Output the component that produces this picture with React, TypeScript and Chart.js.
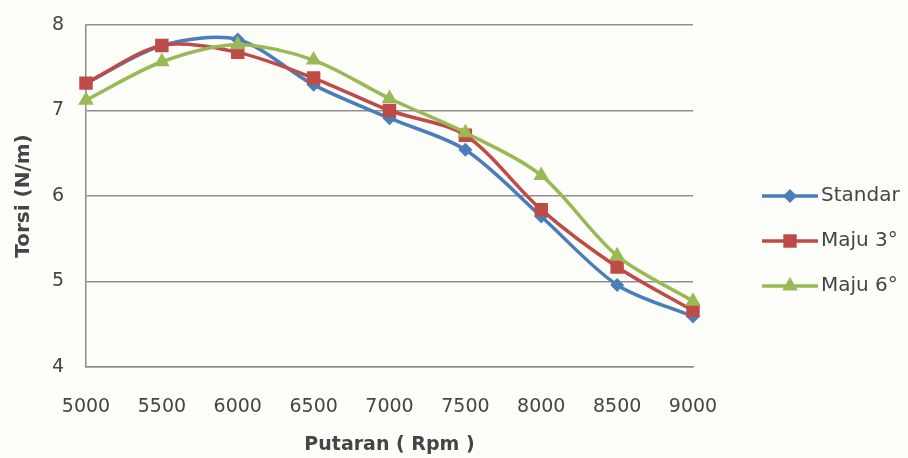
import React, { useEffect, useRef } from "react";
import { Chart, registerables } from "chart.js";

Chart.register(...registerables);

const rpmLabels = ["5000", "5500", "6000", "6500", "7000", "7500", "8000", "8500", "9000"];
const standar = [7.32, 7.76, 7.83, 7.3, 6.91, 6.54, 5.76, 4.96, 4.59];
const maju3 = [7.32, 7.76, 7.68, 7.38, 7.0, 6.71, 5.84, 5.17, 4.66];
const maju6 = [7.12, 7.57, 7.77, 7.59, 7.14, 6.74, 6.24, 5.3, 4.77];
const seriesNames = ["Standar", "Maju 3°", "Maju 6°"];
const yTitle = "Torsi (N/m)";
const xTitle = "Putaran ( Rpm )";

const COLORS = ["#4A7EBB", "#BE4B48", "#98B954"];
const STYLES = ["rectRot", "rect", "triangle"];
const FONT = "'DejaVu Sans', sans-serif";
const TEXT = "#454545";

function drawMarker(ctx: CanvasRenderingContext2D, style: string, x: number, y: number, r: number) {
  ctx.beginPath();
  if (style === "rect") {
    const s = r * Math.SQRT1_2;
    ctx.rect(x - s, y - s, 2 * s, 2 * s);
  } else if (style === "rectRot") {
    ctx.moveTo(x, y - r);
    ctx.lineTo(x + r, y);
    ctx.lineTo(x, y + r);
    ctx.lineTo(x - r, y);
    ctx.closePath();
  } else {
    const h = r;
    ctx.moveTo(x, y - h);
    ctx.lineTo(x + h * 0.866, y + h * 0.5);
    ctx.lineTo(x - h * 0.866, y + h * 0.5);
    ctx.closePath();
  }
  ctx.fill();
}

const bgPlugin = {
  id: "bg",
  beforeDraw(chart: any) {
    const ctx = chart.ctx;
    ctx.save();
    ctx.fillStyle = "#fdfdf9";
    ctx.fillRect(0, 0, chart.width, chart.height);
    ctx.restore();
  },
};

const legendPlugin = {
  id: "sideLegend",
  afterDraw(chart: any) {
    const ctx = chart.ctx;
    ctx.save();
    chart.data.datasets.forEach((ds: any, i: number) => {
      const y = 196 + i * 45;
      ctx.strokeStyle = ds.borderColor;
      ctx.lineWidth = 3.5;
      ctx.beginPath();
      ctx.moveTo(762, y);
      ctx.lineTo(818, y);
      ctx.stroke();
      ctx.fillStyle = ds.backgroundColor;
      drawMarker(ctx, ds.pointStyle, 790, y, ds.pointRadius);
      ctx.fillStyle = TEXT;
      ctx.font = `20px ${FONT}`;
      ctx.textBaseline = "middle";
      ctx.textAlign = "left";
      ctx.fillText(ds.label, 821, y);
    });
    ctx.restore();
  },
};

export default function App() {
  const ref = useRef<HTMLCanvasElement | null>(null);

  useEffect(() => {
    if (!ref.current) return;
    const values = [standar, maju3, maju6];
    const radii = [7, 9.5, 9];
    const chart = new Chart(ref.current, {
      type: "line",
      data: {
        labels: rpmLabels,
        datasets: values.map((v, i) => ({
          label: seriesNames[i],
          data: v,
          borderColor: COLORS[i],
          backgroundColor: COLORS[i],
          pointBackgroundColor: COLORS[i],
          pointBorderColor: COLORS[i],
          pointStyle: STYLES[i] as any,
          pointRadius: radii[i],
          pointBorderWidth: 0,
          borderWidth: 3.5,
          tension: 0.3,
          fill: false,
          order: 2 - i,
        })),
      },
      options: {
        responsive: false,
        animation: false,
        layout: { padding: { top: 25, right: 215, left: 0, bottom: 0 } },
        plugins: { legend: { display: false }, tooltip: { enabled: false } },
        scales: {
          x: {
            type: "category",
            offset: false,
            grid: { display: false, drawTicks: false },
            border: { display: true, color: "#8c8c8c", width: 1.5 },
            ticks: { font: { family: FONT, size: 19 }, color: TEXT, padding: 29, maxRotation: 0, autoSkip: false },
            title: { display: true, text: xTitle, font: { family: FONT, size: 19, weight: "bold" }, color: TEXT, padding: { top: 0, bottom: 2 } },
            afterFit: (s: any) => { s.height = 91; },
          },
          y: {
            min: 4,
            max: 8,
            ticks: { stepSize: 1, font: { family: FONT, size: 19 }, color: TEXT, padding: 22 },
            grid: { color: "#8f8f8f", lineWidth: 1.5, drawTicks: false },
            border: { display: true, color: "#8c8c8c", width: 1.5 },
            title: { display: true, text: yTitle, font: { family: FONT, size: 20, weight: "bold" }, color: TEXT, padding: { top: 12, bottom: 0 } },
            afterFit: (s: any) => { s.width = 86; s.paddingTop = 0; s.paddingBottom = 0; },
          },
        },
      },
      plugins: [bgPlugin, legendPlugin],
    });
    return () => chart.destroy();
  }, []);

  return (
    <div style={{ position: "fixed", left: 0, top: 0, width: 908, height: 458 }}>
      <canvas ref={ref} width={908} height={458} style={{ width: 908, height: 458 }} />
    </div>
  );
}
